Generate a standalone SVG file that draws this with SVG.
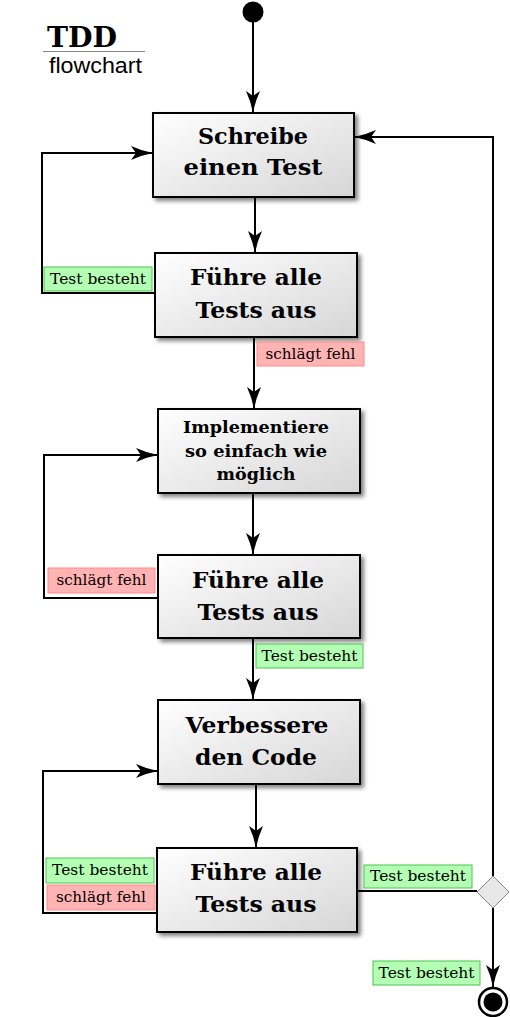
<svg xmlns="http://www.w3.org/2000/svg" width="510" height="1017" viewBox="0 0 510 1017">
<style>
.box{fill:url(#g);stroke:#000;stroke-width:2;filter:url(#sh)}
.bt{font-family:"DejaVu Serif",serif;font-weight:bold;font-size:23px;text-anchor:middle;fill:#000}
.bs{font-family:"DejaVu Serif",serif;font-weight:bold;font-size:17.5px;text-anchor:middle;fill:#000}
.c{fill:none;stroke:#000;stroke-width:2}
.lg{fill:#b3ffb3;stroke:#4cc44c;stroke-width:1}
.lr{fill:#ffb3b3;stroke:#ff8a8a;stroke-width:1}
.lt{font-family:"DejaVu Serif",serif;font-size:15px;text-anchor:middle;fill:#000}
</style>
<defs>
<linearGradient id="g" x1="0" y1="0" x2="1" y2="1">
<stop offset="0" stop-color="#ffffff"/>
<stop offset="1" stop-color="#d6d6d6"/>
</linearGradient>
<filter id="sh" x="-10%" y="-10%" width="130%" height="140%">
<feGaussianBlur in="SourceAlpha" stdDeviation="2"/>
<feOffset dx="3" dy="3" result="b"/>
<feComponentTransfer><feFuncA type="linear" slope="0.5"/></feComponentTransfer>
<feMerge><feMergeNode/><feMergeNode in="SourceGraphic"/></feMerge>
</filter>
<marker id="a" markerUnits="userSpaceOnUse" markerWidth="24" markerHeight="16" refX="22" refY="7" orient="auto" viewBox="0 0 24 16">
<path d="M0,0 Q11,5 22,7 Q11,9 0,14 L5,7 Z" fill="#000"/>
</marker>
</defs>

<g id="title">
<text x="47" y="47" font-family="DejaVu Serif,serif" font-weight="bold" font-size="28" textLength="70" lengthAdjust="spacingAndGlyphs">TDD</text>
<line x1="43" y1="51.5" x2="145" y2="51.5" stroke="#888" stroke-width="1"/>
<text x="49" y="73" font-family="Liberation Sans,sans-serif" font-size="22" textLength="93" lengthAdjust="spacingAndGlyphs">flowchart</text>
</g>

<g id="connectors">
<line class="c" x1="253" y1="22" x2="253" y2="113" marker-end="url(#a)"/>
<line class="c" x1="255" y1="197" x2="255" y2="253" marker-end="url(#a)"/>
<line class="c" x1="254" y1="337" x2="254" y2="409" marker-end="url(#a)"/>
<line class="c" x1="253" y1="493" x2="253" y2="555" marker-end="url(#a)"/>
<line class="c" x1="253" y1="638" x2="253" y2="700" marker-end="url(#a)"/>
<line class="c" x1="256" y1="784" x2="256" y2="848" marker-end="url(#a)"/>
<path class="c" d="M155,293 H42 V153 H153" marker-end="url(#a)"/>
<path class="c" d="M158,598 H44 V455 H158" marker-end="url(#a)"/>
<path class="c" d="M157,913 H43 V771 H158" marker-end="url(#a)"/>
<line class="c" x1="357" y1="891" x2="477" y2="891"/>
<path class="c" d="M493,876 V137 H354" marker-end="url(#a)"/>
<line class="c" x1="493" y1="908" x2="493" y2="987" marker-end="url(#a)"/>
</g>

<g id="start"><circle cx="253" cy="12" r="10.5" fill="#000"/></g>

<g id="n1">
<rect class="box" x="153" y="113" width="201" height="84"/>
<text class="bt" x="253" y="144" textLength="110" lengthAdjust="spacingAndGlyphs">Schreibe</text>
<text class="bt" x="253" y="175" textLength="139" lengthAdjust="spacingAndGlyphs">einen Test</text>
</g>
<g id="n2">
<rect class="box" x="155" y="253" width="202" height="84"/>
<text class="bt" x="256" y="285" textLength="132" lengthAdjust="spacingAndGlyphs">Führe alle</text>
<text class="bt" x="256" y="318" textLength="121" lengthAdjust="spacingAndGlyphs">Tests aus</text>
</g>
<g id="n3">
<rect class="box" x="158" y="409" width="202" height="84"/>
<text class="bs" x="256" y="433" textLength="146" lengthAdjust="spacingAndGlyphs">Implementiere</text>
<text class="bs" x="256" y="457" textLength="142" lengthAdjust="spacingAndGlyphs">so einfach wie</text>
<text class="bs" x="256" y="480" textLength="79" lengthAdjust="spacingAndGlyphs">möglich</text>
</g>
<g id="n4">
<rect class="box" x="158" y="555" width="202" height="83"/>
<text class="bt" x="258" y="588" textLength="132" lengthAdjust="spacingAndGlyphs">Führe alle</text>
<text class="bt" x="258" y="620" textLength="121" lengthAdjust="spacingAndGlyphs">Tests aus</text>
</g>
<g id="n5">
<rect class="box" x="158" y="700" width="202" height="84"/>
<text class="bt" x="257" y="733" textLength="143" lengthAdjust="spacingAndGlyphs">Verbessere</text>
<text class="bt" x="256" y="765" textLength="122" lengthAdjust="spacingAndGlyphs">den Code</text>
</g>
<g id="n6">
<rect class="box" x="157" y="848" width="200" height="84"/>
<text class="bt" x="256" y="880" textLength="132" lengthAdjust="spacingAndGlyphs">Führe alle</text>
<text class="bt" x="256" y="912" textLength="121" lengthAdjust="spacingAndGlyphs">Tests aus</text>
</g>

<g id="decision"><polygon points="493,876 509,892 493,908 477,892" fill="#e8e8e8" stroke="#888" stroke-width="1"/></g>

<g id="end">
<circle cx="493" cy="1002" r="14" fill="#fff" stroke="#000" stroke-width="2.5"/>
<circle cx="493" cy="1002" r="9.5" fill="#000"/>
</g>

<g id="labels">
<rect class="lg" x="44" y="267" width="108" height="24"/><text class="lt" x="98" y="284" textLength="96" lengthAdjust="spacingAndGlyphs">Test besteht</text>
<rect class="lr" x="257" y="342" width="107" height="24"/><text class="lt" x="310.5" y="359" textLength="90" lengthAdjust="spacingAndGlyphs">schlägt fehl</text>
<rect class="lr" x="48" y="568" width="107" height="25"/><text class="lt" x="101.5" y="585" textLength="90" lengthAdjust="spacingAndGlyphs">schlägt fehl</text>
<rect class="lg" x="256" y="644" width="107" height="24"/><text class="lt" x="309.5" y="661" textLength="96" lengthAdjust="spacingAndGlyphs">Test besteht</text>
<rect class="lg" x="46" y="858" width="108" height="25"/><text class="lt" x="100" y="875" textLength="96" lengthAdjust="spacingAndGlyphs">Test besteht</text>
<rect class="lr" x="47" y="885" width="108" height="25"/><text class="lt" x="101" y="902" textLength="90" lengthAdjust="spacingAndGlyphs">schlägt fehl</text>
<rect class="lg" x="364" y="865" width="108" height="23"/><text class="lt" x="418" y="881" textLength="96" lengthAdjust="spacingAndGlyphs">Test besteht</text>
<rect class="lg" x="373" y="961" width="107" height="24"/><text class="lt" x="426.5" y="978" textLength="96" lengthAdjust="spacingAndGlyphs">Test besteht</text>
</g>
</svg>
